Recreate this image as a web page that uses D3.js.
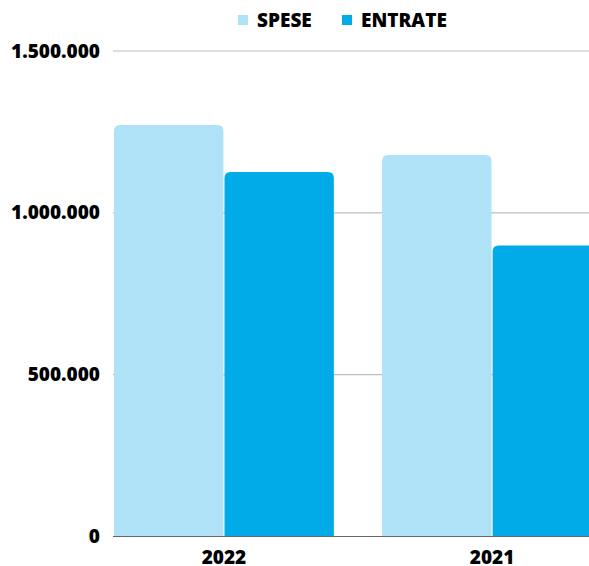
<!DOCTYPE html>
<html>
<head>
<meta charset="utf-8">
<script src="https://cdn.jsdelivr.net/npm/d3@7"></script>
<style>
  body { margin: 0; background: #fff; overflow: hidden; }
  svg text { font-family: "Open Sans", sans-serif; font-weight: 800; fill: #000; }
</style>
</head>
<body>
<div id="chart"></div>
<script>
// --- DATEN ---
const years = ['2022', '2021'];
const series = ['SPESE', 'ENTRATE'];
const spese = [1271000, 1179000];
const entrate = [1126000, 899000];
const yTicks = [0, 500000, 1000000, 1500000];
const colors = ['#b0e2f7', '#00abe8'];

const rows = years.map((y, i) => ({ year: y, values: [spese[i], entrate[i]] }));

// --- KONFIGURATION ---
const width = 589, height = 566;
const svg = d3.select('#chart').append('svg')
  .attr('width', width).attr('height', height);

const x0 = d3.scaleBand().domain(years).range([114, 602]).paddingInner(0.18).paddingOuter(0);
const x1 = d3.scaleBand().domain(series).range([0, x0.bandwidth()]).paddingInner(0.01);
const y = d3.scaleLinear().domain([0, 1500000]).range([536.5, 51]);

const fmt = v => d3.format(',')(v).replace(/,/g, '.');

// Gitterlinien
svg.append('g').selectAll('line').data(yTicks.filter(d => d > 0)).join('line')
  .attr('x1', 113).attr('x2', width)
  .attr('y1', d => y(d)).attr('y2', d => y(d))
  .attr('stroke', '#bdbdbd').attr('stroke-width', 1.2);

// Balken mit abgerundeten oberen Ecken
function topRounded(x, yy, w, h, r) {
  return `M${x},${yy + h}V${yy + r}Q${x},${yy} ${x + r},${yy}H${x + w - r}Q${x + w},${yy} ${x + w},${yy + r}V${yy + h}Z`;
}
svg.append('g').selectAll('g').data(rows).join('g')
  .attr('transform', d => `translate(${x0(d.year)},0)`)
  .selectAll('path').data(d => d.values.map((v, i) => ({ key: series[i], v, i }))).join('path')
  .attr('d', d => topRounded(x1(d.key), y(d.v), x1.bandwidth(), y(0) - y(d.v), 6))
  .attr('fill', d => colors[d.i]);

// Nulllinie
svg.append('line').attr('x1', 113).attr('x2', width)
  .attr('y1', y(0)).attr('y2', y(0))
  .attr('stroke', '#666').attr('stroke-width', 1.2);

// Y-Achse Beschriftung
svg.append('g').selectAll('text').data(yTicks).join('text')
  .attr('x', 100).attr('y', d => y(d)).attr('dy', '0.35em')
  .attr('text-anchor', 'end').attr('font-size', 19)
  .text(d => fmt(d));

// X-Achse Beschriftung
svg.append('g').selectAll('text').data(years).join('text')
  .attr('x', d => x0(d) + x0.bandwidth() / 2).attr('y', 564)
  .attr('text-anchor', 'middle').attr('font-size', 19)
  .text(d => d);

// Legende
const legendX = [238, 342];
const lg = svg.append('g').selectAll('g').data(series).join('g')
  .attr('transform', (d, i) => `translate(${legendX[i]},0)`);
lg.append('rect').attr('x', 0).attr('y', 15).attr('width', 10).attr('height', 10)
  .attr('fill', (d, i) => colors[i]);
lg.append('text').attr('x', 19).attr('y', 27).attr('font-size', 19).text(d => d);
</script>
</body>
</html>
